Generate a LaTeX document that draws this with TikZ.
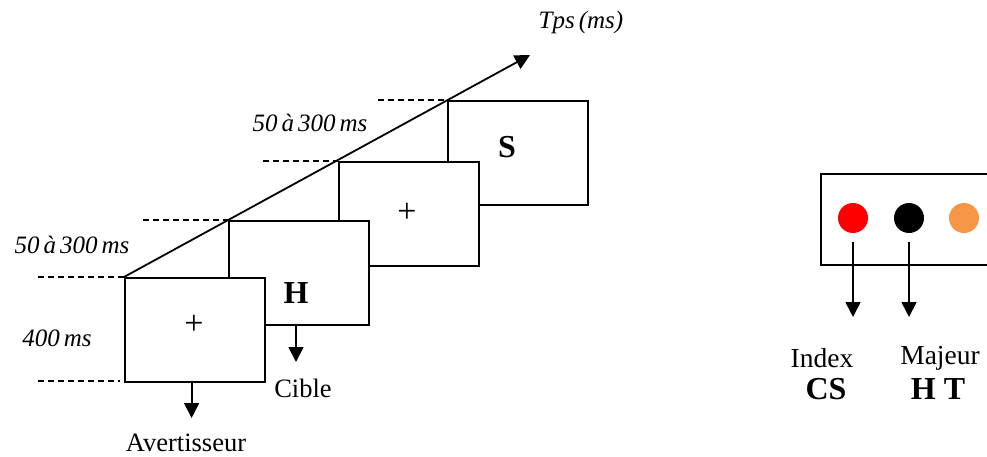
\documentclass[tikz,border=0pt]{standalone}
\usepackage{fontspec}
\setmainfont{Liberation Serif}
\usetikzlibrary{arrows.meta}
\newcommand\myitfont{\fontsize{25}{29}\selectfont\itshape\spaceskip=4pt\relax}
\begin{document}
\begin{tikzpicture}[x=1pt,y=-1pt,
  scr/.style={draw,line width=1.8pt,fill=white,minimum width=140pt,minimum height=104pt,inner sep=0pt},
  arr/.style={line width=1.8pt,-{Triangle[width=15pt,length=15pt]}},
  dsh/.style={line width=1.4pt,dash pattern=on 6pt off 4pt},
  rm/.style={font=\fontsize{26.5}{30}\selectfont,inner sep=0pt},
  rmr/.style={font=\fontsize{27.5}{31}\selectfont,inner sep=0pt},
  pl/.style={font=\fontsize{34}{38}\selectfont,inner sep=0pt},
  bf/.style={font=\fontsize{32}{36}\selectfont\bfseries,inner sep=0pt},
  it/.style={font=\myitfont,inner sep=0pt},
  dot/.style={circle,minimum size=30pt,inner sep=0pt}]
\clip (0,0) rectangle (987,457);
\fill[white] (0,0) rectangle (987,457);
% screens, back to front
\node[scr,anchor=north west] (b4) at (447,100) {};
\node[scr,anchor=north west] (b3) at (338,161) {};
\node[scr,anchor=north west] (b2) at (228,220) {};
\node[scr,anchor=north west] (b1) at (124,277) {};
\node[bf] (s) at (507,147) {S};
\node[pl] (p2) at (407,213) {+};
\node[bf] (h) at (296,293) {H};
\node[pl] (p1) at (194,325) {+};
% time axis
\coordinate (tip) at (530,55);
\draw[arr] (b1.north west) -- (tip);
\node[it] (tps) at (581,22) {Tps (ms)};
% dashed markers
\coordinate (d1) at (38,277);
\coordinate (d2a) at (38,381);
\coordinate (d2b) at (120,381);
\coordinate (d3) at (143,220);
\coordinate (d4) at (263,161);
\coordinate (d5) at (378,100);
\draw[dsh] (d1) -- (b1.north west);
\draw[dsh] (d2a) -- (d2b);
\draw[dsh] (d3) -- (b2.north west);
\draw[dsh] (d4) -- (b3.north west);
\draw[dsh] (d5) -- (b4.north west);
\node[it] (l1) at (72,245) {50 à 300 ms};
\node[it] (l2) at (310,123) {50 à 300 ms};
\node[it] (l3) at (57,338) {400 ms};
% event arrows
\coordinate (a1) at (191.6,418);
\coordinate (a2) at (296,362);
\draw[arr] (b1.south -| a1) -- (a1);
\draw[arr] (b2.south -| a2) -- (a2);
\node[rm] (av) at (186,443) {Avertisseur};
\node[rm] (ci) at (303,388) {Cible};
% response box
\draw[line width=1.8pt] (1000,174) -| (821,265) -- (1000,265);
\node[dot,fill=red] (r) at (853,218) {};
\node[dot,fill=black] (k) at (909,218) {};
\node[dot,fill={rgb,255:red,247;green,150;blue,70}] (o) at (964,218) {};
\coordinate (ia) at (853,317);
\coordinate (ma) at (909,317);
\draw[arr,shorten <=9pt] (r.south) -- (ia);
\draw[arr,shorten <=9pt] (k.south) -- (ma);
\node[rmr] (ix) at (822,358) {Index};
\node[bf] (cs) at (826,389) {CS};
\node[rmr] (mj) at (940,358) {Majeur};
\node[bf] (ht) at (938,389) {H T};
\end{tikzpicture}
\end{document}
